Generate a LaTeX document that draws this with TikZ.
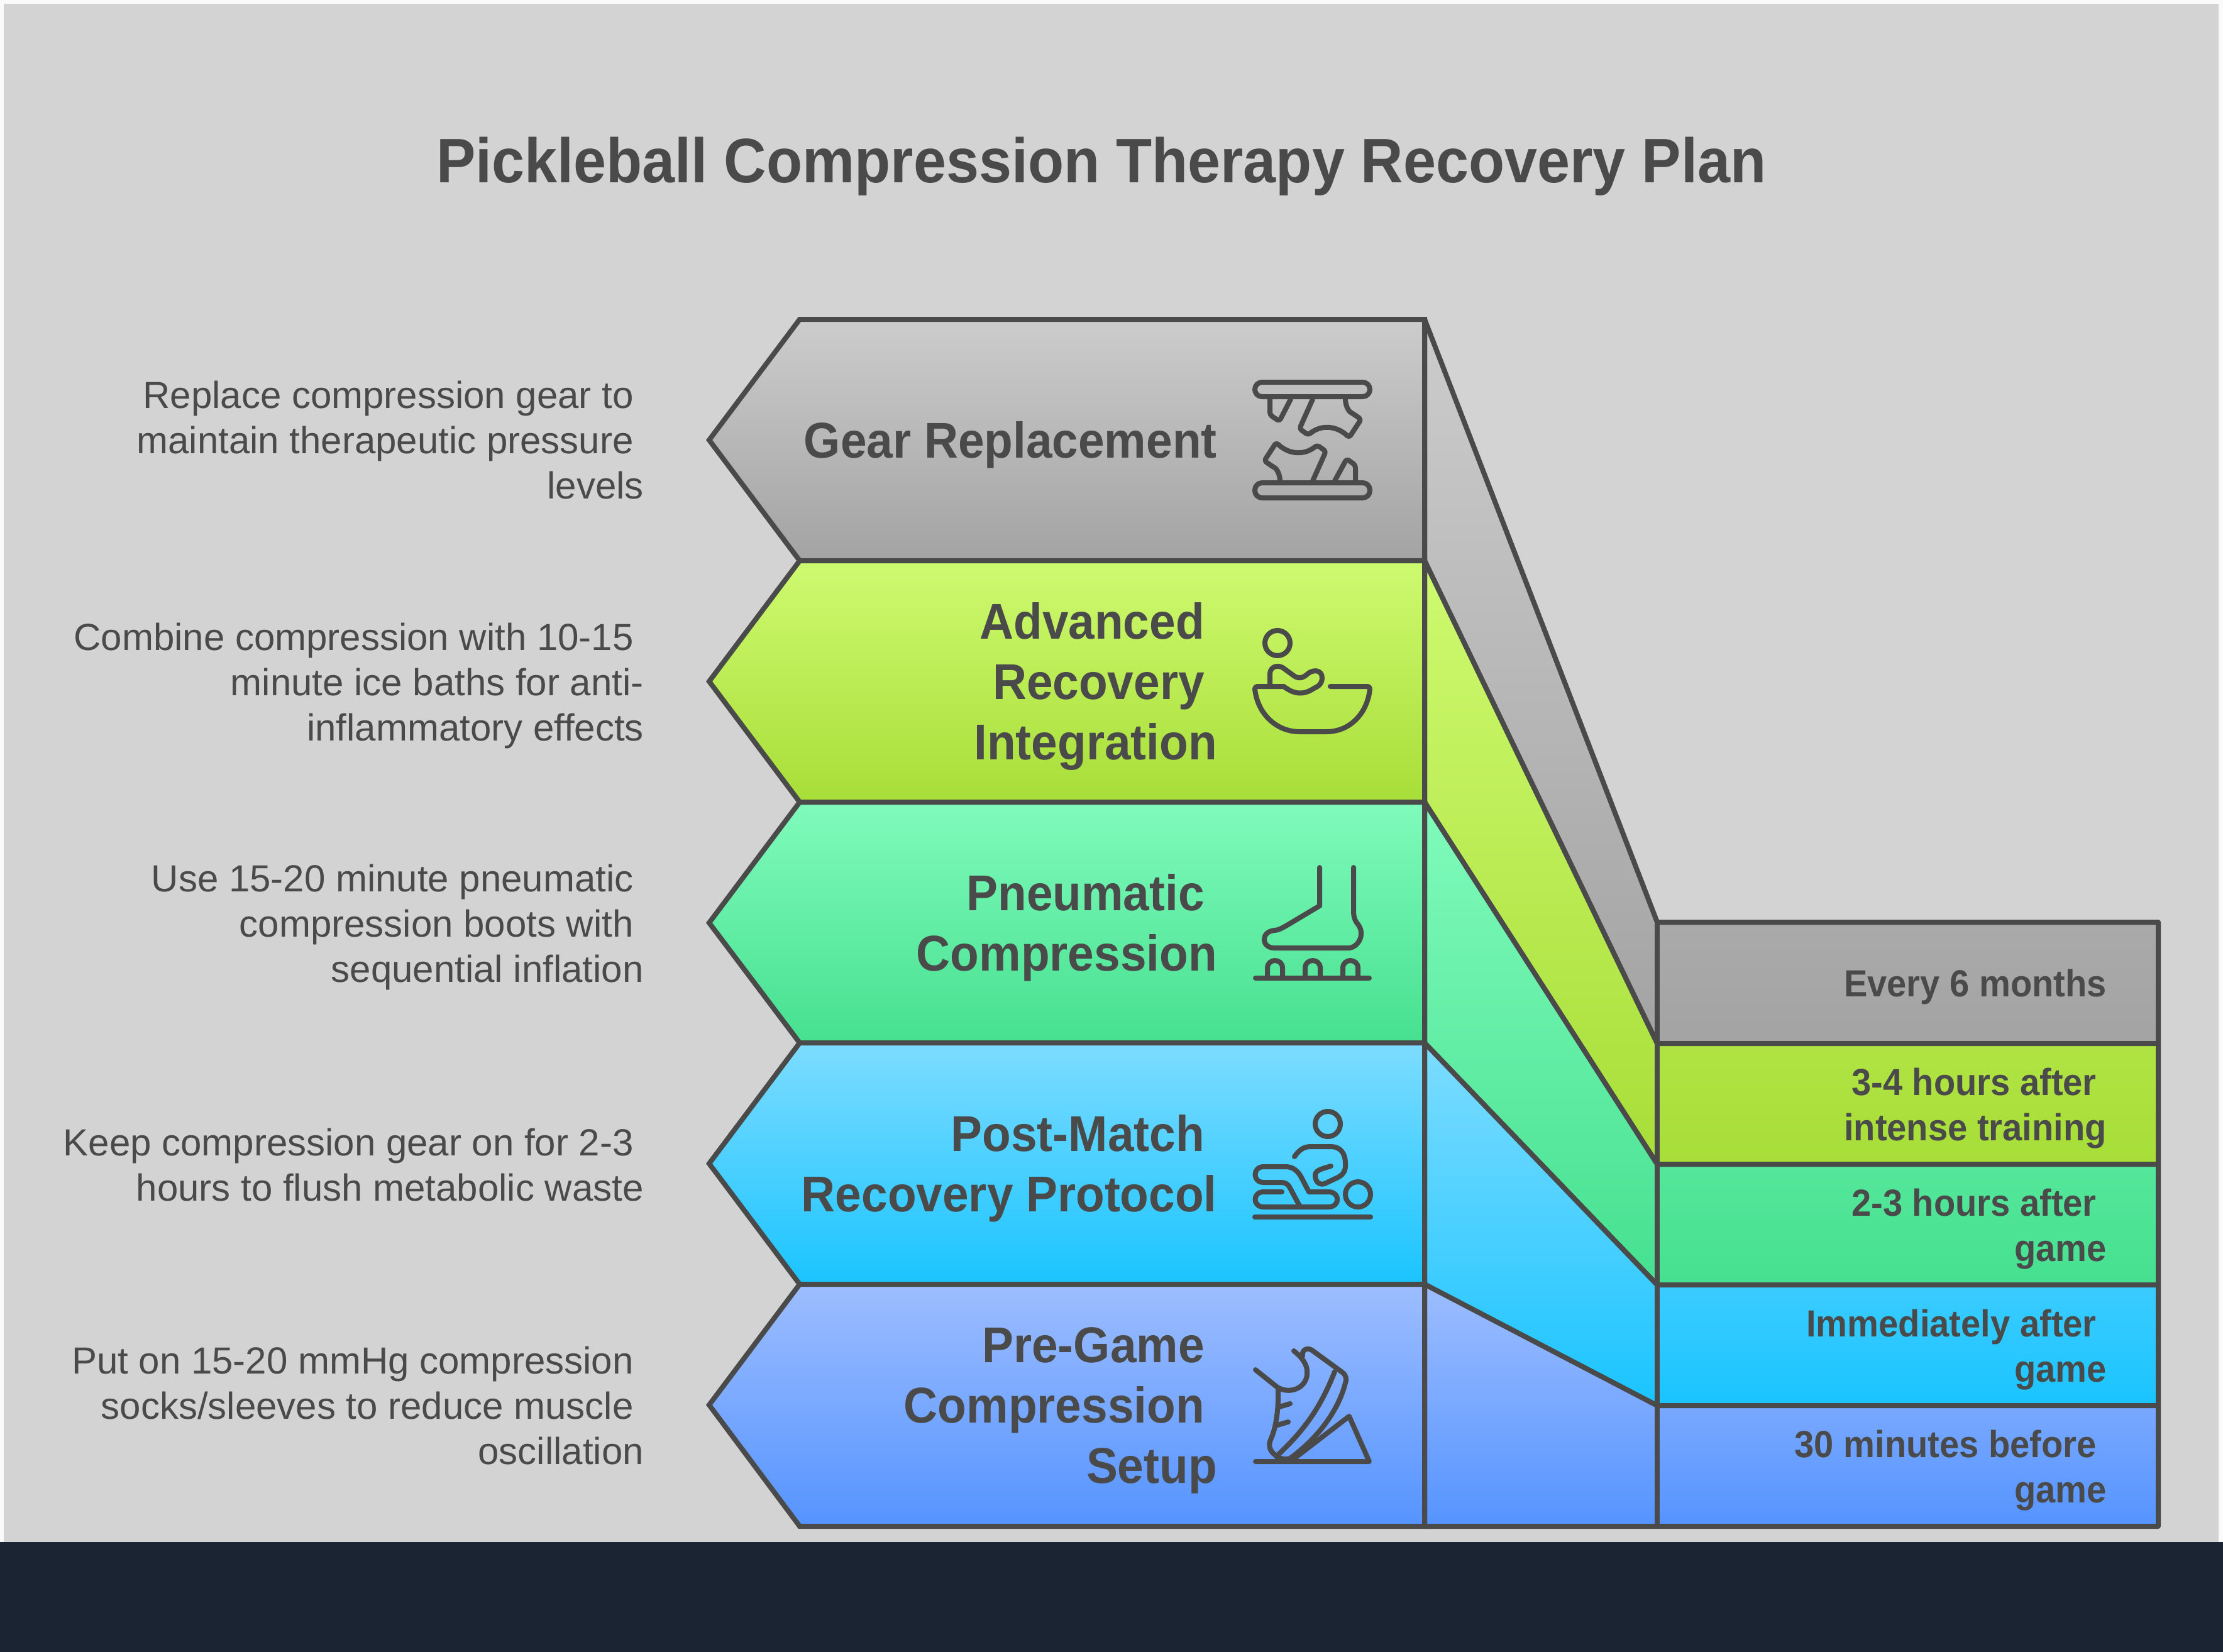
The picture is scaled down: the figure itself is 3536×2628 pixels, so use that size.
\documentclass[tikz,border=0pt]{standalone}
\usepackage{fontspec}
\setmainfont[BoldFeatures={FakeStretch=0.935}]{Liberation Sans}
\definecolor{inkgray}{HTML}{4A4A4A}
\definecolor{paper}{HTML}{D3D3D3}
\definecolor{footer}{HTML}{1A2433}
\definecolor{edge}{HTML}{FAFAFA}
\newcommand{\tailgap}{\kern16pt}
\newcommand{\stepgap}{\kern20pt}

\begin{document}
\begin{tikzpicture}[
    x=1pt, y=-1pt,
    block/.style={draw=inkgray, line width=8pt, line join=miter},
    slant/.style={draw=inkgray, line width=8pt, line join=round},
    graytone/.style={top color=black!20, bottom color=black!36},
    limetone/.style={top color={rgb,255:red,206;green,250;blue,112}, bottom color={rgb,255:red,168;green,222;blue,56}},
    minttone/.style={top color={rgb,255:red,128;green,251;blue,187}, bottom color={rgb,255:red,70;green,224;blue,144}},
    skytone/.style={top color={rgb,255:red,125;green,220;blue,255}, bottom color={rgb,255:red,26;green,196;blue,255}},
    bluetone/.style={top color={rgb,255:red,157;green,189;blue,255}, bottom color={rgb,255:red,85;green,148;blue,255}},
    icon/.style={draw=inkgray, line width=8pt, line cap=round, line join=round},
    title text/.style={text=inkgray, font=\fontsize{100}{120}\selectfont\bfseries},
    note text/.style={text=inkgray, anchor=east, align=right, inner sep=0pt, font=\fontsize{60}{72}\selectfont},
    step text/.style={text=inkgray, anchor=east, align=right, inner sep=0pt, font=\fontsize{80}{96}\selectfont\bfseries},
    time text/.style={text=inkgray, anchor=east, align=right, inner sep=0pt, font=\fontsize{60}{72}\selectfont\bfseries}
]
\useasboundingbox (0,0) rectangle (3536,2628);
\fill[edge] (0,0) rectangle (3536,2628);
\fill[paper] (6,6) rectangle (3529,2453);
\fill[footer] (0,2453) rectangle (3536,2628);

\node[title text] (title) at (1752,265) {Pickleball Compression Therapy Recovery Plan};

% slanted bands and time boxes
\draw[slant, graytone] (2266,508) -- (2636,1467) -- (3433,1467) -- (3433,1660) -- (2636,1660) -- (2266,892) -- cycle;
\draw[slant, limetone] (2266,892) -- (2636,1660) -- (3433,1660) -- (3433,1852) -- (2636,1852) -- (2266,1276) -- cycle;
\draw[slant, minttone] (2266,1276) -- (2636,1852) -- (3433,1852) -- (3433,2044) -- (2636,2044) -- (2266,1659) -- cycle;
\draw[slant, skytone] (2266,1659) -- (2636,2044) -- (3433,2044) -- (3433,2236) -- (2636,2236) -- (2266,2043) -- cycle;
\draw[slant, bluetone] (2266,2043) -- (2636,2236) -- (3433,2236) -- (3433,2428) -- (2266,2428) -- cycle;
\draw[slant, line cap=round] (2636,1467) -- (2636,2428);

% arrow blocks
\draw[block, graytone] (1272,508) -- (2266,508) -- (2266,892) -- (1272,892) -- (1128,700) -- cycle;
\draw[block, limetone] (1272,892) -- (2266,892) -- (2266,1276) -- (1272,1276) -- (1128,1084) -- cycle;
\draw[block, minttone] (1272,1276) -- (2266,1276) -- (2266,1659) -- (1272,1659) -- (1128,1468) -- cycle;
\draw[block, skytone] (1272,1659) -- (2266,1659) -- (2266,2043) -- (1272,2043) -- (1128,1851) -- cycle;
\draw[block, bluetone] (1272,2043) -- (2266,2043) -- (2266,2428) -- (1272,2428) -- (1128,2235) -- cycle;

% block labels
\node[step text] (gear) at (1936,708) {Gear Replacement};
\node[step text] (advanced) at (1936,1092) {Advanced\stepgap\\Recovery\stepgap\\Integration};
\node[step text] (pneumatic) at (1936,1476) {Pneumatic\stepgap\\Compression};
\node[step text] (postmatch) at (1936,1859) {Post-Match\stepgap\\Recovery Protocol};
\node[step text] (pregame) at (1936,2244) {Pre-Game\stepgap\\Compression\stepgap\\Setup};

% notes on the left
\node[note text] (notegear) at (1024,700) {Replace compression gear to\tailgap\\maintain therapeutic pressure\tailgap\\levels};
\node[note text] (noteadvanced) at (1024,1091) {Combine compression with 10-15\tailgap\\minute ice baths for anti-\\inflammatory effects};
\node[note text] (notepneumatic) at (1024,1475) {Use 15-20 minute pneumatic\tailgap\\compression boots with\tailgap\\sequential inflation};
\node[note text] (notepostmatch) at (1024,1853) {Keep compression gear on for 2-3\tailgap\\hours to flush metabolic waste};
\node[note text] (notepregame) at (1024,2236) {Put on 15-20 mmHg compression\tailgap\\socks/sleeves to reduce muscle\tailgap\\oscillation};

% times on the right
\node[time text] (timegear) at (3351,1570) {Every 6 months};
\node[time text] (timeadvanced) at (3351,1763) {3-4 hours after\tailgap\\intense training};
\node[time text] (timepneumatic) at (3351,1955) {2-3 hours after\tailgap\\game};
\node[time text] (timepostmatch) at (3351,2147) {Immediately after\tailgap\\game};
\node[time text] (timepregame) at (3351,2339) {30 minutes before\tailgap\\game};

% gear icon
\draw[icon, rounded corners=11.5pt] (1996,608) rectangle (2179,631);
\draw[icon, rounded corners=11.5pt] (1996,768) rectangle (2179,792);
\draw[icon, rounded corners=4pt] (2020,635) -- (2020,660) -- (2035,670) -- (2053,635);
\draw[icon, rounded corners=4pt] (2088,635) -- (2067,682) -- (2081,692) .. controls (2100,676) and (2125,676) .. (2146,696) -- (2165,667) -- (2152,658) .. controls (2145,654) and (2140,645) .. (2140,635);
\draw[icon, rounded corners=4pt] (2156,765) -- (2156,740) -- (2142,730) -- (2123,765);
\draw[icon, rounded corners=4pt] (2088,765) -- (2109,718) -- (2095,708) .. controls (2076,724) and (2051,724) .. (2030,704) -- (2011,733) -- (2024,742) .. controls (2031,746) and (2036,755) .. (2036,765);

% bath icon
\draw[icon] (2032,1023) circle (20);
\draw[icon] (2020,1088) -- (2020,1072) .. controls (2020,1060) and (2034,1056) .. (2043,1064) -- (2058,1075) .. controls (2067,1081) and (2073,1078) .. (2080,1072) .. controls (2092,1062) and (2107,1068) .. (2102,1084) .. controls (2100,1090) and (2096,1092) .. (2090,1095) .. controls (2075,1105) and (2060,1106) .. (2042,1092) -- (2000,1092) .. controls (1997,1092) and (1996,1094) .. (1996,1096) .. controls (2000,1135) and (2030,1164) .. (2067,1164) -- (2110,1164) .. controls (2147,1164) and (2175,1135) .. (2179,1096) .. controls (2179,1094) and (2178,1092) .. (2175,1092) -- (2116,1092);

% foot icon
\draw[icon] (2099,1380) -- (2099,1441) -- (2047,1472) .. controls (2038,1477) and (2033,1480) .. (2027,1480) .. controls (2005,1482) and (2006,1508) .. (2027,1508) -- (2145,1508) .. controls (2160,1508) and (2174,1485) .. (2158,1468) .. controls (2153,1460) and (2153,1455) .. (2153,1445) -- (2153,1380);
\draw[icon] (1997,1556) -- (2178,1556);
\draw[icon] (2016,1556) -- (2016,1540) .. controls (2016,1524) and (2040,1524) .. (2040,1540) -- (2040,1556);
\draw[icon] (2076,1556) -- (2076,1540) .. controls (2076,1524) and (2100,1524) .. (2100,1540) -- (2100,1556);
\draw[icon] (2136,1556) -- (2136,1540) .. controls (2136,1524) and (2160,1524) .. (2160,1540) -- (2160,1556);

% massage icon
\draw[icon] (2112,1788) circle (20);
\draw[icon] (2059,1840) .. controls (2066,1830) and (2073,1824) .. (2085,1824) -- (2117,1824) .. controls (2132,1824) and (2140,1835) .. (2140,1850) .. controls (2141,1860) and (2138,1868) .. (2128,1873) -- (2107,1883) .. controls (2097,1886) and (2092,1878) .. (2092,1870) .. controls (2092,1862) and (2100,1860) .. (2117,1855);
\draw[icon] (2039,1896) -- (2010,1896) .. controls (1992,1896) and (1992,1920) .. (2010,1920) -- (2113,1920) .. controls (2132,1920) and (2132,1896) .. (2113,1896) -- (2082,1896) -- (2070,1873) .. controls (2064,1862) and (2056,1856) .. (2045,1856) -- (2010,1856) .. controls (1992,1856) and (1992,1881) .. (2010,1881) -- (2038,1881) .. controls (2045,1881) and (2049,1884) .. (2052,1890) -- (2067,1918);
\draw[icon] (2160,1900) circle (20);
\draw[icon] (1996,1936) -- (2180,1936);

% shoe icon
\draw[icon] (1997,2325) -- (2178,2325) -- (2146,2253) -- (2055,2323);
\draw[icon] (1997,2179) -- (2032,2207) .. controls (2055,2220) and (2082,2205) .. (2079,2180) .. controls (2078,2170) and (2072,2160) .. (2058,2149);
\draw[icon] (2072,2157) .. controls (2070,2147) and (2080,2143) .. (2087,2148) -- (2135,2183) .. controls (2142,2188) and (2142,2195) .. (2140,2200) .. controls (2130,2240) and (2100,2285) .. (2052,2320) .. controls (2045,2322) and (2040,2322) .. (2032,2317) .. controls (2020,2310) and (2016,2300) .. (2022,2288) .. controls (2030,2270) and (2034,2240) .. (2033,2210);
\draw[icon] (2030,2317) .. controls (2075,2275) and (2100,2240) .. (2123,2182);
\draw[icon] (2035,2238) -- (2052,2233);
\draw[icon] (2032,2267) -- (2049,2262);

\end{tikzpicture}
\end{document}
